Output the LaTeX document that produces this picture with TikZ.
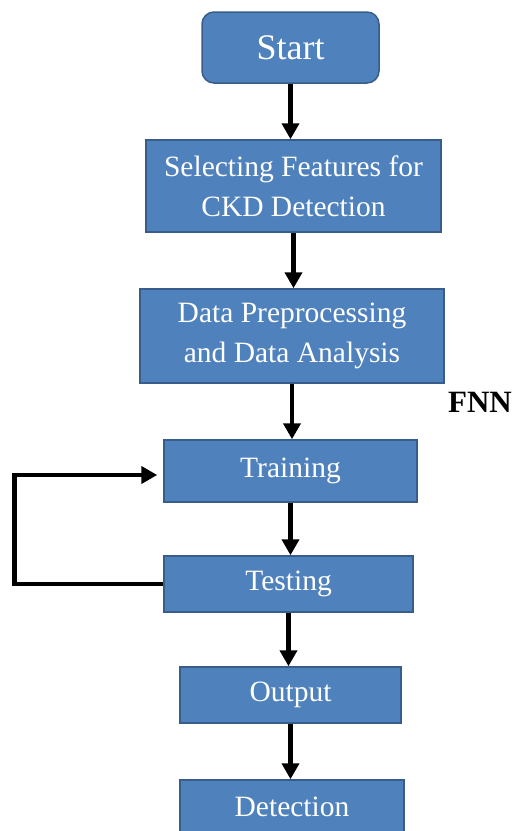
\documentclass[tikz,border=0pt]{standalone}
\usepackage{fontspec}
\setmainfont{Liberation Serif}
\usepackage{xcolor}
\usetikzlibrary{arrows.meta,calc}
\definecolor{boxfill}{RGB}{79,129,189}
\definecolor{boxline}{RGB}{56,93,138}
\tikzset{
  stage/.style={draw=boxline, line width=1.5pt, fill=boxfill, text=white, align=center,
    inner sep=0pt, font=\fontsize{29.5}{40}\selectfont},
  flow/.style={draw=black, line width=4.5pt, -{Triangle[length=16pt,width=17pt]}},
  tag/.style={font=\bfseries\fontsize{31}{36}\selectfont}
}

\begin{document}
\begin{tikzpicture}[x=1pt,y=-1pt]
    \useasboundingbox (0,0) rectangle (516,831);
    % stages
    \node[stage, rounded corners=12pt, minimum width=177pt, minimum height=71pt,
      font=\fontsize{36}{40}\selectfont] (start) at (290.5,47.5) {Start};
    \node[stage, minimum width=295pt, minimum height=92pt] (select) at (293.5,186)
      {Selecting Features for\\CKD Detection};
    \node[stage, minimum width=304pt, minimum height=94pt] (prep) at (292,336)
      {Data Preprocessing\\and Data Analysis};
    \node[stage, minimum width=253pt, minimum height=62pt] (train) at (290.5,471) {Training};
    \node[stage, minimum width=249pt, minimum height=56pt] (test) at (288.5,584) {Testing};
    \node[stage, minimum width=221pt, minimum height=56pt] (output) at (290.5,695) {Output};
    \node[stage, minimum width=224pt, minimum height=54pt] (detect) at (292,807) {Detection};
    \node[tag] (fnn) at (480,402) {FNN};
    % arrows
    \draw[flow] (start.south) -- (start.south |- select.north);
    \draw[flow] (select.south) -- (select.south |- prep.north);
    \draw[flow] (prep.south) -- (prep.south |- train.north);
    \draw[flow] (train.south) -- (train.south |- test.north);
    \draw[flow] (test.south) -- (test.south |- output.north);
    \draw[flow] (output.south) -- (output.south |- detect.north);
    % feedback loop
    \coordinate (back) at ([xshift=-6pt,yshift=-4pt]train.west);
    \draw[flow] (test.west) -- ++(-149,0) |- (back);
  \end{tikzpicture}
\end{document}
